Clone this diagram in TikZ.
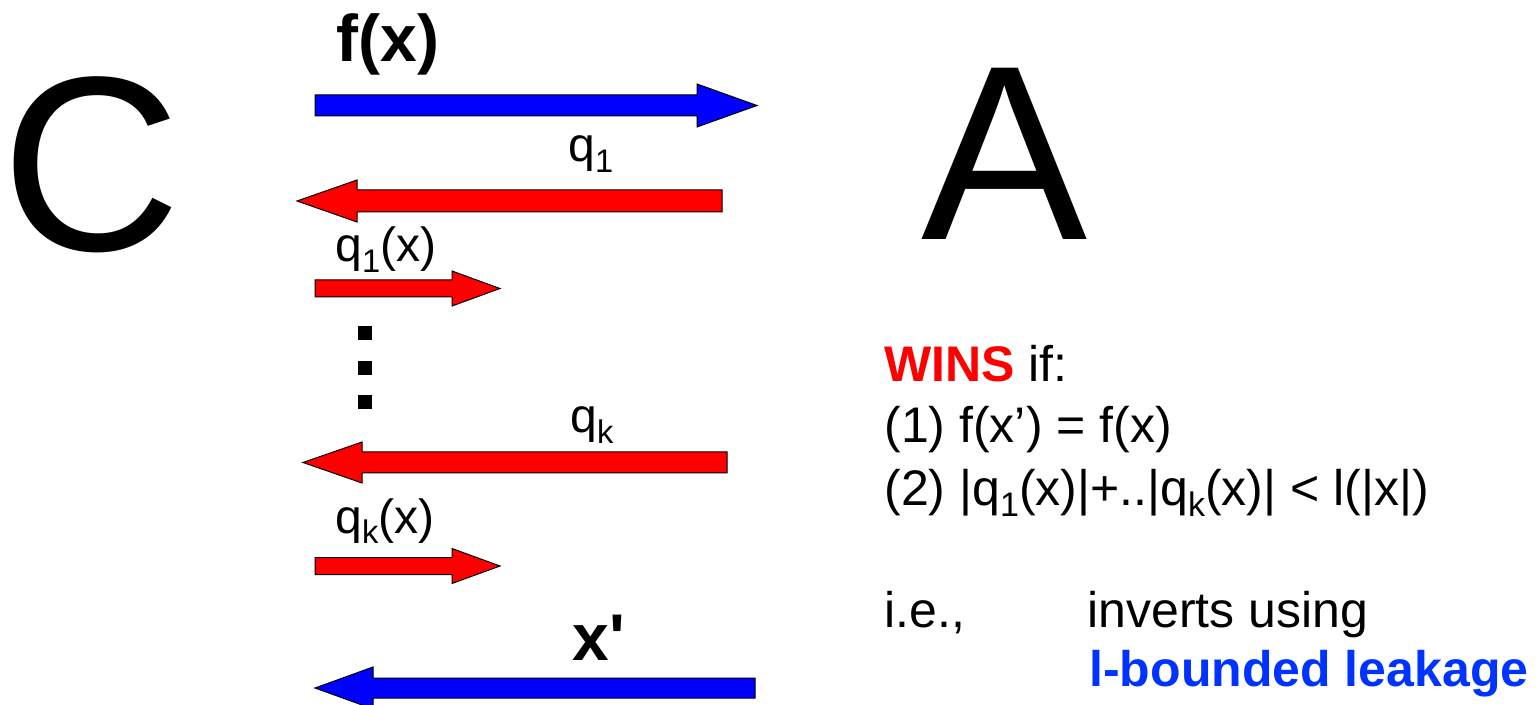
\documentclass[tikz,border=0pt]{standalone}
\usepackage{fontspec}
\setmainfont{Liberation Sans}
\usepackage{graphicx}
\usepackage{xcolor}
\usetikzlibrary{calc}

\definecolor{leakblue}{RGB}{0,51,255}
\newcommand{\lo}[1]{\raisebox{-0.21em}{\scalebox{0.68}{#1}}}
\newcommand{\fs}[1]{\fontsize{#1}{#1}\selectfont}
% block arrow: colour, tail, tip, head length, shaft half width, head half width
\newcommand{\fatarrow}[6]{%
  \path ($(#3)!#4!(#2)$) coordinate (neck);
  \draw[arrowline,fill=#1] ([yshift=#5]#2) -- ([yshift=#5]neck) -- ([yshift=#6]neck) -- (#3)
    -- ([yshift=-#6]neck) -- ([yshift=-#5]neck) -- ([yshift=-#5]#2) -- cycle;}

\tikzset{lbl/.style={inner sep=0pt,anchor=base west},
  arrowline/.style={draw=black,line width=0.5pt}}

\begin{document}
\begin{tikzpicture}[x=0.5pt,y=-0.5pt]
			\useasboundingbox (0,0) rectangle (1537,705);
			% parties
			\node[lbl] (C) at (1,251) {\fs{124.5}C};
			\node[lbl] (A) at (921,240) {\fs{124.5}A};
			% messages
			\coordinate (fx tail) at (315,105.5); \coordinate (fx tip) at (757,105.5);
			\coordinate (q1 tail) at (722,201); \coordinate (q1 tip) at (297,201);
			\coordinate (a1 tail) at (315,288.5); \coordinate (a1 tip) at (500,288.5);
			\coordinate (qk tail) at (727,462.5); \coordinate (qk tip) at (303,462.5);
			\coordinate (ak tail) at (315,566); \coordinate (ak tip) at (500,566);
			\coordinate (xp tail) at (755,688); \coordinate (xp tip) at (315,688);
			\fatarrow{blue}{fx tail}{fx tip}{30pt}{5.25pt}{10.75pt}
			\fatarrow{red}{q1 tail}{q1 tip}{30pt}{5.5pt}{10.5pt}
			\fatarrow{red}{a1 tail}{a1 tip}{24pt}{4.25pt}{8.75pt}
			\fatarrow{red}{qk tail}{qk tip}{29.5pt}{5.25pt}{10.25pt}
			\fatarrow{red}{ak tail}{ak tip}{24pt}{4.25pt}{8.75pt}
			\fatarrow{blue}{xp tail}{xp tip}{29pt}{5pt}{10.5pt}
			\node[lbl] (fx) at (336,62) {\fs{33}\bfseries f(x)};
			\node[lbl] (q1) at (568,162) {\fs{24}q\lo{1}};
			\node[lbl] (a1) at (335,262) {\fs{24}q\lo{1}(x)};
			\node[lbl] (qk) at (570,433) {\fs{24}q\lo{k}};
			\node[lbl] (ak) at (335,533) {\fs{24}q\lo{k}(x)};
			\node[lbl] (xp) at (572,660) {\fs{33}\bfseries x\textquotesingle};
			% dots
			\fill (358,326) rectangle ++(14,14);
			\fill (358,361) rectangle ++(14,14);
			\fill (358,395) rectangle ++(14,14);
			% winning condition
			\node[lbl] (wins) at (884,382) {\fs{25}{\color{red}\bfseries WINS} if:};
			\node[lbl] (cond1) at (884,443) {\fs{25}(1) f(x’) = f(x)};
			\node[lbl] (cond2) at (884,506) {\fs{25}(2) |q\lo{1}(x)|+..|q\lo{k}(x)| < l(|x|)};
			\node[lbl] (ie) at (884,627) {\fs{25}i.e.,};
			\node[lbl] (inv) at (1087,627) {\fs{25}inverts using};
			\node[lbl] (leak) at (1089,686) {\fs{25}\color{leakblue}\bfseries l-bounded leakage};
		\end{tikzpicture}
\end{document}
